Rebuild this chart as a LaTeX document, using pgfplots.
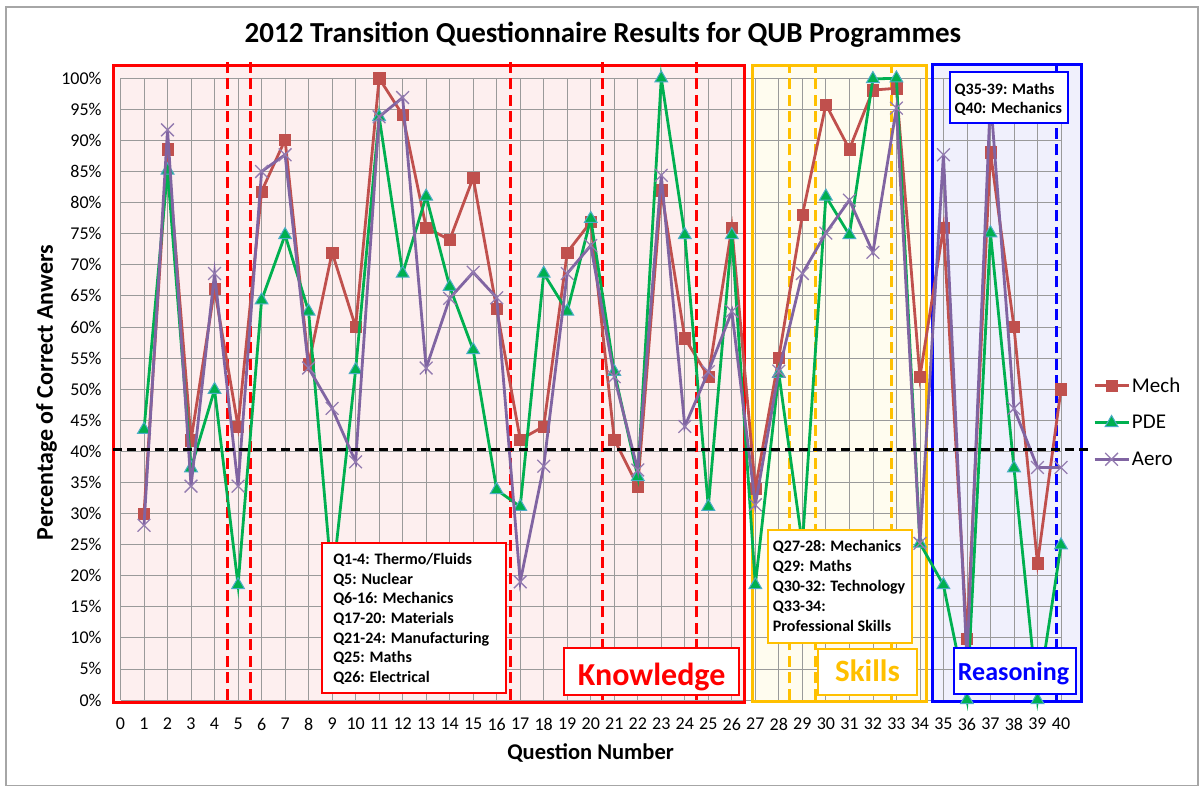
\documentclass[border=0pt]{standalone}
\usepackage{pgfplots}
\pgfplotsset{compat=1.18}
\usepackage{pgfplotstable}
\usepackage{fontspec}
\setmainfont{Carlito}
\definecolor{mech}{HTML}{C0504D}
\definecolor{pde}{HTML}{00B050}
\definecolor{pdeedge}{HTML}{4BACC6}
\definecolor{aero}{HTML}{8064A2}
\definecolor{kfill}{HTML}{FDEFEF}
\definecolor{sfill}{HTML}{FFFCEF}
\definecolor{rfill}{HTML}{F0F0FC}
\definecolor{gold}{HTML}{FFC000}
\definecolor{gridc}{HTML}{9A9A9A}
\definecolor{framec}{HTML}{A6A6A6}
\tikzset{vsep/.style={line width=3pt, dash pattern=on 11pt off 5.5pt}}

\pgfplotstableread{
q mech pde aero
1 30.0 43.5 28.1
2 88.6 85.2 91.7
3 41.8 37.3 34.4
4 66.1 49.9 68.6
5 44.0 18.5 34.4
6 81.8 64.3 85.0
7 90.1 74.8 87.7
8 54.0 62.5 53.4
9 72.0 18.75 46.9
10 60.0 53.1 38.3
11 100 93.8 93.8
12 94.1 68.6 96.9
13 76.0 81.0 53.4
14 74.0 66.5 64.6
15 84.0 56.3 68.8
16 62.9 33.8 64.7
17 41.9 31.1 19.0
18 44.0 68.6 37.6
19 72.0 62.5 68.6
20 76.9 77.4 73.1
21 41.9 52.8 52.0
22 34.4 35.9 37.0
23 82.0 100 84.4
24 58.2 74.8 44.0
25 52.0 31.1 52.8
26 76.0 74.8 62.5
27 34.0 18.5 31.4
28 55.1 52.5 52.9
29 78.0 25.0 68.6
30 95.8 81.0 75.1
31 88.6 74.8 80.4
32 98.1 99.9 72.0
33 98.4 100 95.2
34 52.0 25.2 25.2
35 76.0 18.5 87.7
36 9.9 0 6.25
37 88.1 75.1 97.0
38 60.0 37.3 46.9
39 22.0 0 37.4
40 50.0 24.9 37.4
}\datatable

\begin{document}
\begin{tikzpicture}
\path (0,0) rectangle (1203pt,787pt);
\draw[framec, line width=1.2pt] (6pt,1.5pt) rectangle (1198pt,780pt);
\begin{axis}[
  at={(120.5pt,87pt)}, anchor=south west,
  width=940.5pt, height=621.7pt, scale only axis,
  xmin=0, xmax=40, ymin=0, ymax=100,
  xtick={0,...,40}, ytick={0,5,...,100},
  grid=major, major grid style={gridc, line width=0.8pt},
  axis line style={draw=none},
  major tick length=0pt,
  set layers, clip=false, clip marker paths=true,
  /pgf/number format/assume math mode=true,
  yticklabel={\pgfmathprintnumber{\tick}\%},
  ticklabel style={font=\fontsize{18}{20}\selectfont},
  xticklabel style={inner sep=0pt, anchor=north, yshift=-18pt},
  yticklabel style={inner sep=0pt, anchor=east, xshift=-18.8pt},
  title={2012 Transition Questionnaire Results for QUB Programmes},
  title style={font=\bfseries\fontsize{29}{31}\selectfont, at={(axis description cs:0.513,1.0483)}, anchor=base, inner sep=0pt},
  xlabel={Question Number},
  xlabel style={font=\bfseries\fontsize{22.5}{24}\selectfont, at={(axis description cs:0.4998,-0.0965)}, anchor=base, inner sep=0pt},
  ylabel={Percentage of Correct Anwers},
  ylabel style={font=\bfseries\fontsize{24}{26}\selectfont, at={(axis description cs:-0.0785,0.4946)}, anchor=center, inner sep=0pt},
  legend style={at={(axis description cs:1.034,0.4467)}, anchor=west, draw=none, fill=none, inner sep=0pt, row sep=17.5pt,
    font=\fontsize{21}{23}\selectfont, nodes={inner sep=2pt}},
  legend cell align=left,
  legend image code/.code={\draw[mark repeat=2,mark phase=2,#1] plot coordinates {(0pt,0pt) (17pt,0pt) (34pt,0pt)};},
]
% region backgrounds
\addplot[draw=none, fill=kfill, on layer=axis background, forget plot] coordinates {(-0.28,-0.43) (26.54,-0.43) (26.54,102) (-0.28,102)} -- cycle;
\addplot[draw=none, fill=sfill, on layer=axis background, forget plot] coordinates {(26.9,-0.27) (34.26,-0.27) (34.26,102.1) (26.9,102.1)} -- cycle;
\addplot[draw=none, fill=rfill, on layer=axis background, forget plot] coordinates {(34.54,-0.27) (40.86,-0.27) (40.86,102.2) (34.54,102.2)} -- cycle;
% region frames
\draw[red, line width=3pt] (axis cs:-0.28,-0.43) rectangle (axis cs:26.54,102);
\draw[gold, line width=3pt] (axis cs:26.9,-0.27) rectangle (axis cs:34.26,102.1);
\draw[blue, line width=3pt] (axis cs:34.54,-0.27) rectangle (axis cs:40.86,102.2);
% topic separators
\draw[red, vsep] (axis cs:4.56,0) -- (axis cs:4.56,102.7);
\draw[red, vsep] (axis cs:5.52,0) -- (axis cs:5.52,102.7);
\draw[red, vsep] (axis cs:16.6,0) -- (axis cs:16.6,102.7);
\draw[red, vsep] (axis cs:20.5,0) -- (axis cs:20.5,102.7);
\draw[red, vsep] (axis cs:24.5,0) -- (axis cs:24.5,102.7);
\draw[gold, vsep] (axis cs:28.46,0) -- (axis cs:28.46,102.3);
\draw[gold, vsep] (axis cs:29.57,0) -- (axis cs:29.57,102.3);
\draw[gold, vsep] (axis cs:32.8,0) -- (axis cs:32.8,102.3);
\draw[blue, vsep] (axis cs:39.8,0) -- (axis cs:39.8,102.3);

\addplot[color=mech, line width=2.8pt, mark=square*, mark size=5.6pt,
  mark options={solid, fill=mech, draw=mech, line width=0.4pt}] table[x=q,y=mech]{\datatable};
\addlegendentry{Mech}
\addplot[color=pde, line width=2.8pt, mark=triangle*, mark size=7.4pt,
  mark options={solid, fill=pde, draw=pdeedge, line width=1pt}] table[x=q,y=pde]{\datatable};
\addlegendentry{PDE}
\addplot[color=aero, line width=2.8pt, mark=x, mark size=9pt,
  mark options={solid, draw=aero!85!white, line width=1.3pt}] table[x=q,y=aero]{\datatable};
\addlegendentry{Aero}

% pass mark
\draw[black, line width=3pt, dash pattern=on 9pt off 5pt] (axis cs:-0.3,40.3) -- (axis cs:41.25,40.3);

% annotation boxes
\draw[red, line width=2pt, fill=white] (axis cs:8.56,1.13) rectangle (axis cs:16.39,25.25);
\node[anchor=north west, inner sep=0pt, align=left, font=\bfseries\fontsize{16}{19.7}\selectfont] at (axis cs:9.04,23.64)
  {Q1-4: Thermo/Fluids\\Q5: Nuclear\\Q6-16: Mechanics\\Q17-20: Materials\\Q21-24: Manufacturing\\Q25: Maths\\Q26: Electrical};
\draw[red, line width=2pt, fill=white] (axis cs:18.87,0.8) rectangle (axis cs:26.29,8.32);
\node[anchor=base, inner sep=0pt, text=red, font=\bfseries\fontsize{32}{34}\selectfont] at (axis cs:22.59,2.41) {Knowledge};

\draw[gold, line width=2pt, fill=white] (axis cs:27.52,9.22) rectangle (axis cs:33.67,27.34);
\node[anchor=north west, inner sep=0pt, align=left, font=\bfseries\fontsize{16}{20}\selectfont] at (axis cs:27.74,25.8)
  {Q27-28: Mechanics\\Q29: Maths\\Q30-32: Technology\\Q33-34:\\Professional Skills};
\draw[gold, line width=2pt, fill=white] (axis cs:29.65,0.8) rectangle (axis cs:33.88,8.16);
\node[anchor=base, inner sep=0pt, text=gold, font=\bfseries\fontsize{31}{33}\selectfont] at (axis cs:31.77,2.94) {Skills};

\draw[blue, line width=2pt, fill=white] (axis cs:35.44,0.92) rectangle (axis cs:40.62,8.41);
\node[anchor=base, inner sep=0pt, text=blue, font=\bfseries\fontsize{26}{28}\selectfont] at (axis cs:37.98,3.2) {Reasoning};

\draw[blue, line width=2pt, fill=white] (axis cs:35.27,92.76) rectangle (axis cs:40.31,100.96);
\node[anchor=north west, inner sep=0pt, align=left, font=\bfseries\fontsize{16}{19}\selectfont] at (axis cs:35.47,99.2)
  {Q35-39: Maths\\Q40: Mechanics};
\end{axis}
\end{tikzpicture}
\end{document}
